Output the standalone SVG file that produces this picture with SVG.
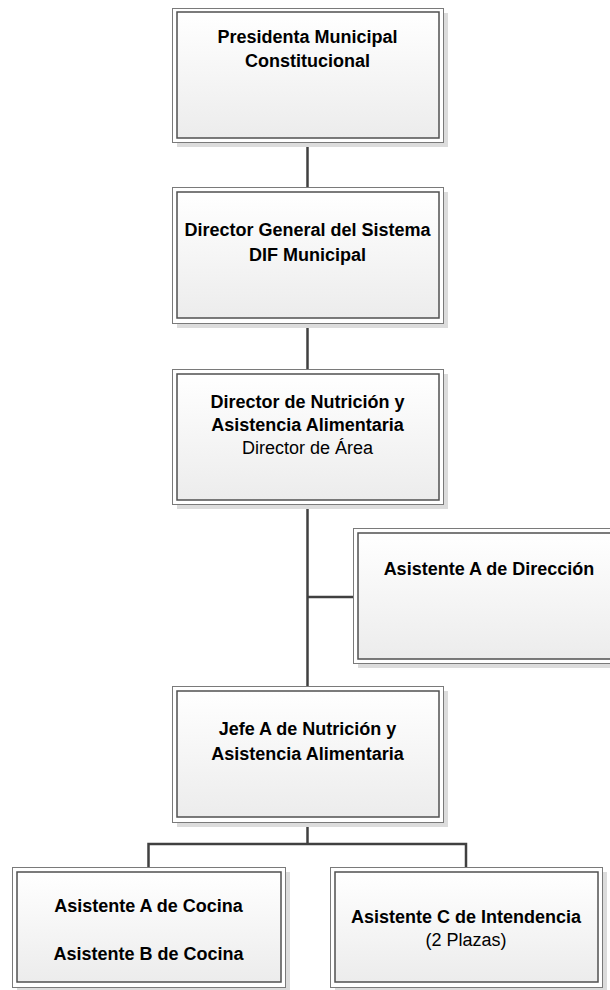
<svg xmlns="http://www.w3.org/2000/svg" width="610" height="990" viewBox="0 0 610 990">
<defs>
<linearGradient id="g" x1="0" y1="0" x2="0" y2="1">
<stop offset="0" stop-color="#ffffff"/>
<stop offset="1" stop-color="#ececec"/>
</linearGradient>
<style>
.sh{fill:#dcdcdc}
.out{fill:#ffffff;stroke:#7a7a7a;stroke-width:1}
.in{fill:url(#g);stroke:#505050;stroke-width:1.5}
.t{font-family:"Liberation Sans",Arial,sans-serif;font-size:18px;font-weight:bold;fill:#000;text-anchor:middle}
.n{font-weight:normal}
.c{stroke:#404040;stroke-width:2.5;fill:none}
</style>
</defs>
<g id="connectors">
<line class="c" x1="307.5" y1="142" x2="307.5" y2="187"/>
<line class="c" x1="307.5" y1="323" x2="307.5" y2="369"/>
<line class="c" x1="307.5" y1="504" x2="307.5" y2="686"/>
<line class="c" x1="307.5" y1="597" x2="353" y2="597"/>
<polyline class="c" points="307.5,822 307.5,844"/>
<polyline class="c" points="148.5,867 148.5,844 466,844 466,867"/>
</g>
<g id="n1">
<rect class="sh" x="177" y="13" width="271" height="134"/>
<rect class="out" x="172.5" y="8.5" width="271" height="134"/>
<rect class="in" x="177" y="12" width="262" height="126"/>
<text class="t" x="307.5" y="43">Presidenta Municipal</text>
<text class="t" x="307.5" y="67">Constitucional</text>
</g>
<g id="n2">
<rect class="sh" x="177" y="192" width="271" height="136"/>
<rect class="out" x="172.5" y="187.5" width="271" height="136"/>
<rect class="in" x="177" y="192" width="262" height="126"/>
<text class="t" x="307.5" y="236">Director General del Sistema</text>
<text class="t" x="307.5" y="261">DIF Municipal</text>
</g>
<g id="n3">
<rect class="sh" x="177" y="374" width="271" height="135"/>
<rect class="out" x="172.5" y="369.5" width="271" height="135"/>
<rect class="in" x="177" y="374" width="262" height="126"/>
<text class="t" x="307.5" y="408">Director de Nutrición y</text>
<text class="t" x="307.5" y="431">Asistencia Alimentaria</text>
<text class="t n" x="307.5" y="454">Director de Área</text>
</g>
<g id="n4">
<rect class="sh" x="358" y="533" width="271" height="135"/>
<rect class="out" x="353.5" y="528.5" width="271" height="135"/>
<rect class="in" x="358" y="533" width="262" height="126"/>
<text class="t" x="489" y="575">Asistente A de Dirección</text>
</g>
<g id="n5">
<rect class="sh" x="177" y="691" width="271" height="136"/>
<rect class="out" x="172.5" y="686.5" width="271" height="136"/>
<rect class="in" x="177" y="691" width="262" height="126"/>
<text class="t" x="307.5" y="735">Jefe A de Nutrición y</text>
<text class="t" x="307.5" y="760">Asistencia Alimentaria</text>
</g>
<g id="n6">
<rect class="sh" x="17" y="872" width="273" height="125"/>
<rect class="out" x="12.5" y="867.5" width="273" height="120"/>
<rect class="in" x="17" y="872" width="264" height="110"/>
<text class="t" x="148.5" y="912">Asistente A de Cocina</text>
<text class="t" x="148.5" y="960">Asistente B de Cocina</text>
</g>
<g id="n7">
<rect class="sh" x="335" y="872" width="272" height="125"/>
<rect class="out" x="330.5" y="867.5" width="272" height="120"/>
<rect class="in" x="335" y="872" width="263" height="110"/>
<text class="t" x="466" y="923">Asistente C de Intendencia</text>
<text class="t n" x="466" y="946">(2 Plazas)</text>
</g>
</svg>
